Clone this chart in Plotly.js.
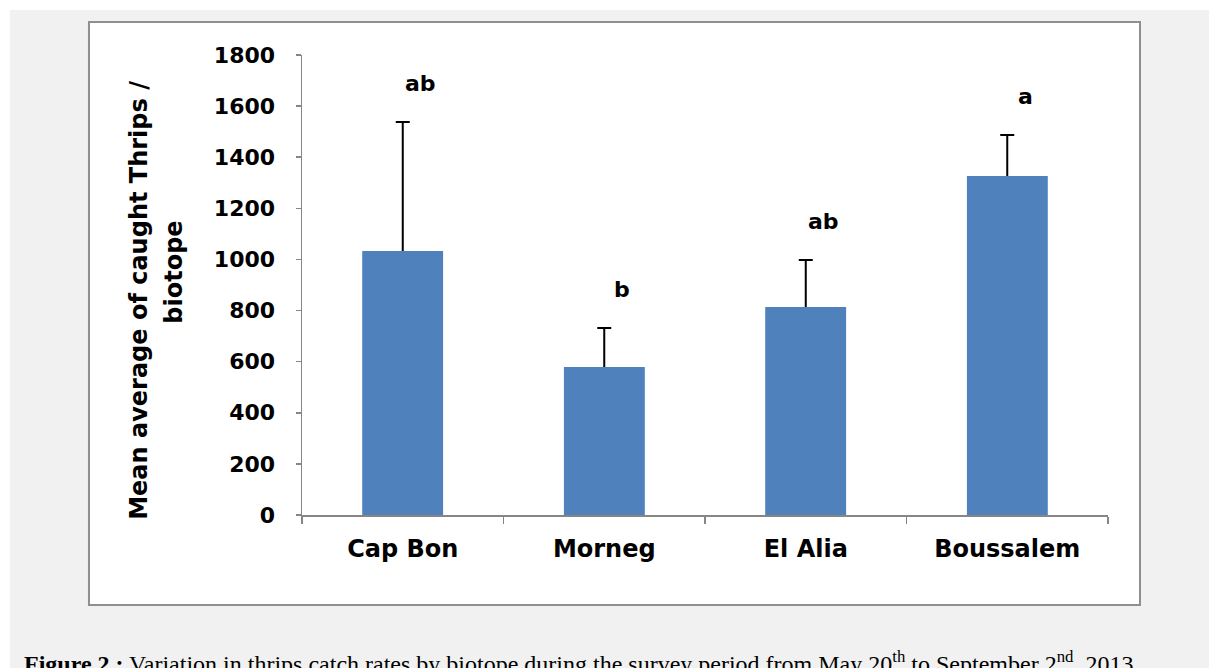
<!DOCTYPE html>
<html>
<head>
<meta charset="utf-8">
<script src="https://cdn.plot.ly/plotly-3.0.1.min.js"></script>
<style>
  html, body { margin: 0; padding: 0; background: #ffffff; width: 1209px; height: 668px; overflow: hidden; }
  #chart { position: absolute; left: 10px; top: 10px; width: 1199px; height: 658px; }
</style>
</head>
<body>
<div id="chart"></div>
<script>
// ---- data ----
const biotopes = ["Cap Bon", "Morneg", "El Alia", "Boussalem"];
const meanCatch = [1033, 579, 814, 1327];
const errUpper = [505, 153, 184, 160];
const sigLetters = ["ab", "b", "ab", "a"];
const yTickVals = [0, 200, 400, 600, 800, 1000, 1200, 1400, 1600, 1800];
const yTitleLines = ["Mean average of caught Thrips /", "biotope"];

const barColor = "#4F81BD";

// bars with upper error bars (lower part hidden under the overlaid bars)
const barWithErr = {
  type: "bar",
  x: biotopes,
  y: meanCatch,
  marker: { color: barColor, line: { width: 0 } },
  error_y: {
    type: "data",
    symmetric: false,
    array: errUpper,
    arrayminus: meanCatch.map(v => Math.min(60, v)),
    color: "#000000",
    thickness: 2,
    width: 7
  },
  hoverinfo: "x+y"
};
// same bars drawn again on top so that only the upper whisker shows
const barTop = {
  type: "bar",
  x: biotopes,
  y: meanCatch,
  marker: { color: barColor, line: { width: 0 } },
  hoverinfo: "skip"
};

const letterFont = { family: "DejaVu Sans", size: 22, color: "#000000", weight: "bold" };
const titleFont = { family: "DejaVu Sans", size: 24, color: "#000000", weight: "bold" };

const annotations = biotopes.map((b, i) => ({
  x: b, y: meanCatch[i] + errUpper[i],
  xref: "x", yref: "y",
  text: sigLetters[i],
  showarrow: false,
  xshift: 18,
  yshift: 38,
  font: letterFont
}));

// y-axis title (two lines, placed as in the reference)
annotations.push({
  xref: "paper", yref: "paper",
  x: -0.2014, y: 0.467,
  xanchor: "center", yanchor: "middle",
  textangle: -90, showarrow: false,
  text: yTitleLines[0], font: titleFont
});
annotations.push({
  xref: "paper", yref: "paper",
  x: -0.1581, y: 0.528,
  xanchor: "center", yanchor: "middle",
  textangle: -90, showarrow: false,
  text: yTitleLines[1], font: titleFont
});

// figure caption
annotations.push({
  xref: "paper", yref: "paper",
  x: -0.348, y: -0.2826,
  xanchor: "left", yanchor: "top",
  showarrow: false,
  align: "left",
  text: "<b>Figure 2 :</b> Variation in thrips catch rates by biotope during the survey period from May 20<sup>th</sup> to September 2<sup>nd</sup>, 2013",
  font: { family: "Liberation Serif", size: 24, color: "#000000" }
});

const layout = {
  width: 1199, height: 658,
  margin: { l: 292, r: 101, t: 45, b: 153 },
  paper_bgcolor: "#F1F1F1",
  plot_bgcolor: "rgba(0,0,0,0)",
  showlegend: false,
  barmode: "overlay",
  bargap: 0.6,
  xaxis: {
    type: "category",
    range: [-0.5, 3.5],
    showline: true, linecolor: "#868686", linewidth: 1.5,
    ticks: "outside", tickson: "boundaries", ticklen: 7, tickcolor: "#868686", tickwidth: 1.5,
    showgrid: false, zeroline: false,
    tickfont: { family: "DejaVu Sans", size: 24, color: "#000000", weight: "bold" },
    ticklabelstandoff: 12
  },
  yaxis: {
    range: [0, 1800],
    tickvals: yTickVals,
    ticktext: yTickVals.map(String),
    showline: true, linecolor: "#868686", linewidth: 1.5,
    ticks: "outside", ticklen: 5, tickcolor: "#868686", tickwidth: 1.5,
    showgrid: false, zeroline: false,
    tickfont: { family: "DejaVu Sans", size: 22, color: "#000000", weight: "bold" },
    ticklabelstandoff: 16
  },
  shapes: [{
    type: "rect", xref: "paper", yref: "paper", layer: "below",
    x0: -0.2643, x1: 1.0397, y0: -0.1957, y1: 1.0717,
    fillcolor: "#FFFFFF",
    line: { color: "#8F8F8F", width: 2 }
  }],
  annotations: annotations
};

Plotly.newPlot("chart", [barWithErr, barTop], layout, { displayModeBar: false, staticPlot: true });
</script>
</body>
</html>
